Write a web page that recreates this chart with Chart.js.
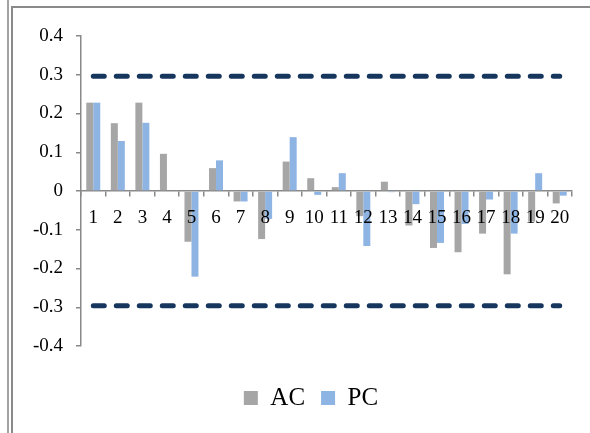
<!DOCTYPE html>
<html>
<head>
<meta charset="utf-8">
<script src="https://cdn.jsdelivr.net/npm/chart.js@4.4.0/dist/chart.umd.min.js"></script>
<style>
    html, body { margin: 0; padding: 0; background: #fff; }
    #wrap { position: relative; width: 590px; height: 433px; }
    #chart { position: absolute; left: 0; top: 0; }
    .line-outer { position: absolute; left: 7px; top: 0; width: 2px; height: 433px; background: #a2a2a2; }
    .line-inner { position: absolute; left: 11px; top: 6px; width: 2px; height: 427px; background: #8a8a8a; }
    .line-top { position: absolute; left: 11px; top: 6px; width: 579px; height: 2px; background: #8a8a8a; }
</style>
</head>
<body>
<div id="wrap">
    <canvas id="chart" width="590" height="433"></canvas>
    <div class="line-outer"></div>
    <div class="line-inner"></div>
    <div class="line-top"></div>
</div>
<script>
    // Data
    const labels = ['1', '2', '3', '4', '5', '6', '7', '8', '9', '10',
                    '11', '12', '13', '14', '15', '16', '17', '18', '19', '20'];
    const acValues = [0.228, 0.175, 0.228, 0.096, -0.131, 0.059, -0.027, -0.124, 0.076, 0.033,
                      0.010, -0.065, 0.024, -0.089, -0.147, -0.158, -0.110, -0.215, -0.079, -0.032];
    const pcValues = [0.228, 0.129, 0.176, 0.000, -0.221, 0.079, -0.027, -0.072, 0.139, -0.010,
                      0.046, -0.142, -0.003, -0.034, -0.134, -0.085, -0.022, -0.110, 0.046, -0.012];
    const upperBound = [0.296, 0.296, 0.296, 0.296, 0.296, 0.296, 0.296, 0.296, 0.296, 0.296,
                        0.296, 0.296, 0.296, 0.296, 0.296, 0.296, 0.296, 0.296, 0.296, 0.296];
    const lowerBound = [-0.296, -0.296, -0.296, -0.296, -0.296, -0.296, -0.296, -0.296, -0.296, -0.296,
                        -0.296, -0.296, -0.296, -0.296, -0.296, -0.296, -0.296, -0.296, -0.296, -0.296];

    const AXIS_GRAY = '#898989';
    const FONT = 'Liberation Serif';

    function boundLine(data) {
        return {
            type: 'line',
            data: data,
            borderColor: '#17365d',
            borderWidth: 5,
            borderDash: [11, 12],
            borderCapStyle: 'round',
            pointRadius: 0,
            fill: false
        };
    }

    // moves the legend a bit to the right, under the plot area
    const shiftLegend = {
        id: 'shiftLegend',
        afterLayout(chart) {
            chart.legend.left += 25;
            chart.legend.right += 25;
        }
    };

    const ctx = document.getElementById('chart').getContext('2d');
    new Chart(ctx, {
        type: 'bar',
        data: {
            labels: labels,
            datasets: [
                { label: 'AC', data: acValues, backgroundColor: '#a6a6a6' },
                { label: 'PC', data: pcValues, backgroundColor: '#8eb4e3' },
                boundLine(upperBound),
                boundLine(lowerBound)
            ]
        },
        options: {
            responsive: false,
            animation: false,
            datasets: {
                bar: { categoryPercentage: 0.57, barPercentage: 1.0 }
            },
            layout: { padding: { left: 0, right: 18, top: 36, bottom: 12.5 } },
            scales: {
                x: {
                    position: { y: 0 },
                    grid: { drawOnChartArea: false, color: AXIS_GRAY, lineWidth: 1.5, tickLength: 5 },
                    border: { color: AXIS_GRAY, width: 1.5 },
                    ticks: { color: '#000', padding: 11, z: 1, maxRotation: 0, autoSkip: false,
                             font: { family: FONT, size: 19 } }
                },
                y: {
                    min: -0.4,
                    max: 0.4,
                    afterFit: function(scale) { scale.width = 81; },
                    grid: { drawOnChartArea: false, color: AXIS_GRAY, lineWidth: 1.5, tickLength: 5 },
                    border: { color: AXIS_GRAY, width: 1.5 },
                    ticks: {
                        stepSize: 0.1,
                        color: '#000',
                        padding: 13,
                        font: { family: FONT, size: 19 },
                        callback: function(value) { return String(Number(value.toFixed(1))); }
                    }
                }
            },
            plugins: {
                tooltip: { enabled: false },
                legend: {
                    position: 'bottom',
                    title: { display: true, text: '', padding: { top: 11.5, bottom: 0 },
                             font: { size: 10, lineHeight: 1.2 } },
                    labels: {
                        color: '#000',
                        boxWidth: 14,
                        boxHeight: 14,
                        padding: 16,
                        font: { family: FONT, size: 25 },
                        filter: function(item) { return item.datasetIndex < 2; }
                    }
                }
            }
        },
        plugins: [shiftLegend]
    });
</script>
</body>
</html>
